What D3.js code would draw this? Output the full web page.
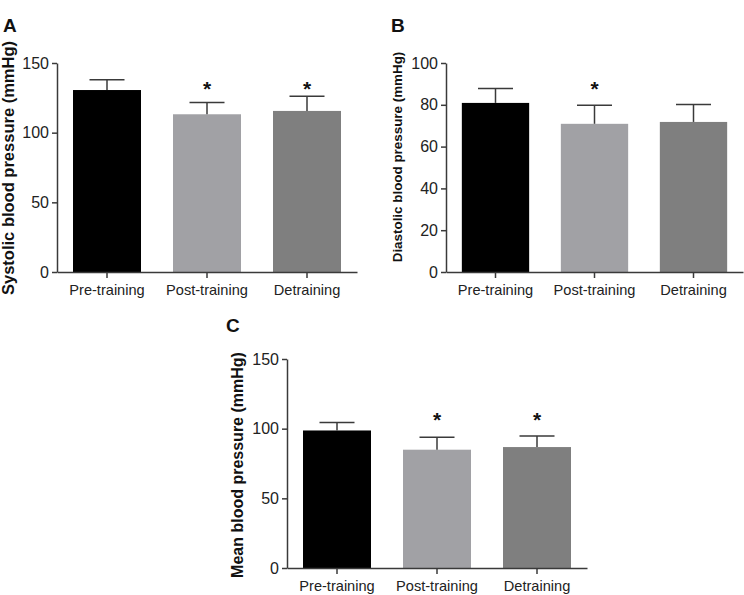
<!DOCTYPE html>
<html>
<head>
<meta charset="utf-8">
<script src="https://cdn.jsdelivr.net/npm/d3@7"></script>
<style>
  body { margin: 0; background: #fff; }
  svg { display: block; }
  text { font-family: "Liberation Sans", Arial, sans-serif; }
</style>
</head>
<body>
<svg id="chart" width="744" height="595"></svg>
<script>
// ---- Data ----
const categories = ["Pre-training", "Post-training", "Detraining"];
const barColors = ["#000000", "#a1a1a5", "#7f7f7f"];

const systolicMean = [130.6, 113.2, 115.6];
const systolicErr  = [138.0, 121.6, 126.2];
const systolicSig  = [false, true, true];
const systolicTicks = [0, 50, 100, 150];

const diastolicMean = [80.9, 70.9, 71.8];
const diastolicErr  = [87.8, 79.8, 80.1];
const diastolicSig  = [false, true, false];
const diastolicTicks = [0, 20, 40, 60, 80, 100];

const meanMean = [98.7, 84.9, 86.8];
const meanErr  = [104.5, 93.8, 94.7];
const meanSig  = [false, true, true];
const meanTicks = [0, 50, 100, 150];

// ---- Layout ----
const svg = d3.select("#chart");
const axisColor = "#3a3a3a";
const fontFam = "'Liberation Sans', Arial, sans-serif";

const panels = [
  { letter: "A", lx: 3, ly: 32, title: "Systolic blood pressure (mmHg)", titleSize: 16.5, tx: 14, ty: 168,
    x0: 57, x1: 357, yTop: 63, yBot: 272, max: 150, ticks: systolicTicks,
    mean: systolicMean, err: systolicErr, sig: systolicSig, starVal: 134.5 },
  { letter: "B", lx: 391, ly: 32, title: "Diastolic blood pressure (mmHg)", titleSize: 13.4, tx: 402, ty: 157,
    x0: 446, x1: 743, yTop: 63, yBot: 272, max: 100, ticks: diastolicTicks,
    mean: diastolicMean, err: diastolicErr, sig: diastolicSig, starVal: 89.7 },
  { letter: "C", lx: 226, ly: 332, title: "Mean blood pressure (mmHg)", titleSize: 16, tx: 243, ty: 465,
    x0: 287, x1: 587, yTop: 359, yBot: 568, max: 150, ticks: meanTicks,
    mean: meanMean, err: meanErr, sig: meanSig, starVal: 109 }
];

panels.forEach(p => {
  const g = svg.append("g");

  const x = d3.scaleBand().domain(categories).range([p.x0, p.x1])
    .paddingInner(0.32).paddingOuter(0.16);
  const y = d3.scaleLinear().domain([0, p.max]).range([p.yBot, p.yTop]);

  // bars
  g.selectAll("rect.bar").data(categories).enter().append("rect")
    .attr("x", d => x(d))
    .attr("y", (d, i) => y(p.mean[i]))
    .attr("width", x.bandwidth())
    .attr("height", (d, i) => y(0) - y(p.mean[i]))
    .attr("fill", (d, i) => barColors[i]);

  // error bars (upper only)
  const capHalf = 17.5;
  categories.forEach((c, i) => {
    const cx = x(c) + x.bandwidth() / 2;
    g.append("line").attr("x1", cx).attr("x2", cx)
      .attr("y1", y(p.mean[i])).attr("y2", y(p.err[i]))
      .attr("stroke", axisColor).attr("stroke-width", 1.5);
    g.append("line").attr("x1", cx - capHalf).attr("x2", cx + capHalf)
      .attr("y1", y(p.err[i])).attr("y2", y(p.err[i]))
      .attr("stroke", axisColor).attr("stroke-width", 1.5);
    if (p.sig[i]) {
      g.append("text").attr("x", cx).attr("y", y(p.starVal) + 11)
        .attr("text-anchor", "middle")
        .attr("font-size", 21).attr("font-weight", "bold")
        .attr("fill", "#111").text("*");
    }
  });

  // y axis
  const yAxis = d3.axisLeft(y).tickValues(p.ticks).tickSize(5).tickPadding(3).tickSizeOuter(0);
  const ya = g.append("g").attr("transform", `translate(${p.x0},0)`).call(yAxis)
    .attr("font-family", fontFam).attr("font-size", 16);
  ya.select(".domain").attr("stroke", axisColor).attr("stroke-width", 1.5);
  ya.selectAll(".tick line").attr("stroke", axisColor).attr("stroke-width", 1.5);
  ya.selectAll(".tick text").attr("fill", "#222");

  // x axis
  const xAxis = d3.axisBottom(x).tickSize(6).tickPadding(6.5).tickSizeOuter(0);
  const xa = g.append("g").attr("transform", `translate(0,${p.yBot})`).call(xAxis)
    .attr("font-family", fontFam).attr("font-size", 14.6);
  xa.select(".domain").attr("stroke", axisColor).attr("stroke-width", 1.5);
  xa.selectAll(".tick line").attr("stroke", axisColor).attr("stroke-width", 1.5);
  xa.selectAll(".tick text").attr("fill", "#222");

  // y title
  g.append("text")
    .attr("transform", `translate(${p.tx},${p.ty}) rotate(-90)`)
    .attr("text-anchor", "middle")
    .attr("font-size", p.titleSize).attr("font-weight", "bold")
    .attr("fill", "#111").text(p.title);

  // panel letter
  g.append("text").attr("x", p.lx).attr("y", p.ly)
    .attr("font-size", 19).attr("font-weight", "bold")
    .attr("fill", "#111").text(p.letter);
});
</script>
</body>
</html>
